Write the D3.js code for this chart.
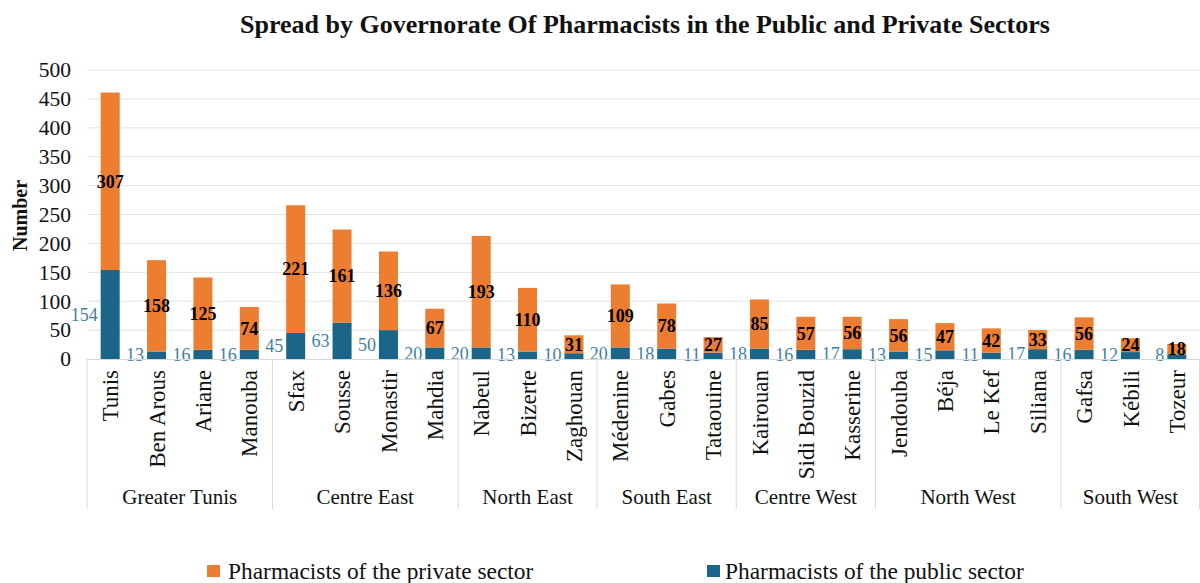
<!DOCTYPE html>
<html><head><meta charset="utf-8">
<script src="https://cdn.jsdelivr.net/npm/d3@7"></script>
<style>body{margin:0;background:#fff}svg{display:block;font-family:"Liberation Serif","Times New Roman",serif}</style>
</head><body>
<svg id="c" width="1200" height="583"></svg>
<script>
const governorates = ["Tunis","Ben Arous","Ariane","Manouba","Sfax","Sousse","Monastir","Mahdia","Nabeul","Bizerte","Zaghouan","Médenine","Gabes","Tataouine","Kairouan","Sidi Bouzid","Kasserine","Jendouba","Béja","Le Kef","Siliana","Gafsa","Kébili","Tozeur"];
const regions = ["Greater Tunis","Greater Tunis","Greater Tunis","Greater Tunis","Centre East","Centre East","Centre East","Centre East","North East","North East","North East","South East","South East","South East","Centre West","Centre West","Centre West","North West","North West","North West","North West","South West","South West","South West"];
const publicSector = [154,13,16,16,45,63,50,20,20,13,10,20,18,11,18,16,17,13,15,11,17,16,12,8];
const privateSector = [307,158,125,74,221,161,136,67,193,110,31,109,78,27,85,57,56,56,47,42,33,56,24,18];
const yTicks = [0,50,100,150,200,250,300,350,400,450,500];
const seriesNames = ["Pharmacists of the private sector","Pharmacists of the public sector"];

const orange = "#ED7D31", blue = "#1B6688", blueLabel = "#3F7FA3";
const svg = d3.select("#c");
const pL = 87, pR = 1200, pT = 70, pB = 359;

const x = d3.scaleBand().domain(governorates).range([pL, pR]).paddingInner(0.59).paddingOuter(0.295);
const y = d3.scaleLinear().domain([0, 500]).range([pB, pT]);

// gridlines
svg.append("g").selectAll("line").data(yTicks.slice(1)).join("line")
  .attr("x1", pL).attr("x2", pR).attr("y1", d => y(d)).attr("y2", d => y(d))
  .attr("stroke", "#e4e4e4").attr("stroke-width", 1);

// y axis labels
const yAxis = d3.axisLeft(y).tickValues(yTicks).tickSize(0).tickPadding(16);
const ya = svg.append("g").attr("transform", `translate(${pL},0)`).call(yAxis);
ya.select(".domain").remove();
ya.selectAll("text").attr("font-size", 21.5).attr("font-family", "Liberation Serif").attr("fill", "#111");

// y title
svg.append("text").attr("transform", `translate(20,${(pT+pB)/2 + 1}) rotate(-90)`)
  .attr("text-anchor", "middle").attr("dy", "0.35em").attr("font-weight", "bold").attr("font-size", 20).attr("fill", "#111").text("Number");

// title
svg.append("text").attr("x", 645).attr("y", 33).attr("text-anchor", "middle")
  .attr("font-weight", "bold").attr("font-size", 26).attr("fill", "#111")
  .text("Spread by Governorate Of Pharmacists in the Public and Private Sectors");

const data = governorates.map((g, i) => ({g, pub: publicSector[i], priv: privateSector[i]}));

// bars
svg.append("g").selectAll("rect").data(data).join("rect")
  .attr("x", d => x(d.g)).attr("width", x.bandwidth())
  .attr("y", d => y(d.pub)).attr("height", d => y(0) - y(d.pub)).attr("fill", blue);
svg.append("g").selectAll("rect").data(data).join("rect")
  .attr("x", d => x(d.g)).attr("width", x.bandwidth())
  .attr("y", d => y(d.pub + d.priv)).attr("height", d => y(d.pub) - y(d.pub + d.priv)).attr("fill", orange);

// labels private
svg.append("g").selectAll("text").data(data).join("text")
  .attr("x", d => x(d.g) + x.bandwidth()/2).attr("y", d => (y(d.pub) + y(d.pub + d.priv))/2)
  .attr("dy", "0.35em").attr("text-anchor", "middle").attr("font-weight", "bold").attr("font-size", 18)
  .attr("fill", "#000").text(d => d.priv);
// labels public
svg.append("g").selectAll("text").data(data).join("text")
  .attr("x", d => x(d.g) - 3).attr("y", d => Math.min((y(0) + y(d.pub))/2, y(0) - 4))
  .attr("dy", "0.35em").attr("text-anchor", "end").attr("font-size", 18)
  .attr("fill", blueLabel).text(d => d.pub);

// x axis line
svg.append("line").attr("x1", pL).attr("x2", pR).attr("y1", pB + 0.5).attr("y2", pB + 0.5).attr("stroke", "#d9d9d9");

// category labels
svg.append("g").selectAll("text").data(governorates).join("text")
  .attr("transform", d => `translate(${x(d) + x.bandwidth()/2},370) rotate(-90)`)
  .attr("dy", "0.35em").attr("text-anchor", "end").attr("font-size", 23).attr("fill", "#111").text(d => d);

// region groups
const groups = [];
regions.forEach((r, i) => {
  if (!groups.length || groups[groups.length-1].name !== r) groups.push({name: r, first: i, last: i});
  else groups[groups.length-1].last = i;
});
const step = x.step();
const bounds = [pL].concat(groups.map(gp => x(governorates[gp.last]) + x.bandwidth()/2 + step/2));
svg.append("g").selectAll("line").data(bounds).join("line")
  .attr("x1", d => Math.min(d, pR - 0.5)).attr("x2", d => Math.min(d, pR - 0.5))
  .attr("y1", pB).attr("y2", 509).attr("stroke", "#d9d9d9");
svg.append("g").selectAll("text").data(groups).join("text")
  .attr("x", gp => (x(governorates[gp.first]) + x(governorates[gp.last]) + x.bandwidth())/2)
  .attr("y", 504).attr("text-anchor", "middle").attr("font-size", 21).attr("fill", "#111").text(gp => gp.name);

// legend
const legend = [{name: seriesNames[0], color: orange, x: 207}, {name: seriesNames[1], color: blue, x: 707}];
const lg = svg.append("g").selectAll("g").data(legend).join("g").attr("transform", d => `translate(${d.x},565)`);
lg.append("rect").attr("width", 13).attr("height", 12).attr("fill", d => d.color);
lg.append("text").attr("x", d => d.x === 207 ? 21 : 18).attr("y", 14).attr("font-size", 23.4).attr("fill", "#111").text(d => d.name);
</script>
</body></html>
